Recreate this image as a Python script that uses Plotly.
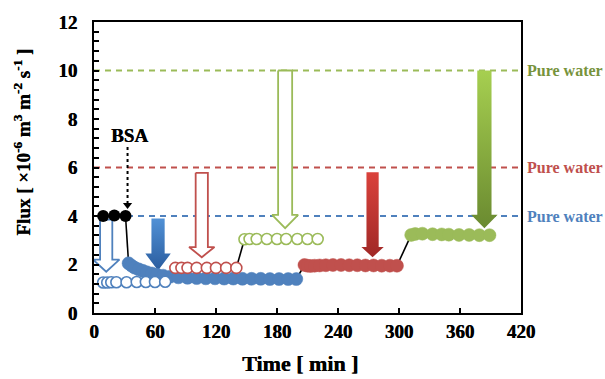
import plotly.graph_objects as go

FONT = "Liberation Serif"

# ---------------- data ----------------
bsa_t = [9, 20, 31]
bsa_flux = [4.0, 4.02, 4.0]

blue_filled_t = [34, 37, 40, 44, 48, 52, 57, 62, 68, 75, 83, 92, 101, 110, 119, 128, 137, 146, 155,
                 164, 173, 182, 191, 199]
blue_filled_flux = [2.05, 1.95, 1.87, 1.8, 1.74, 1.68, 1.63, 1.58, 1.54, 1.5, 1.47, 1.45, 1.44, 1.43,
                    1.43, 1.42, 1.42, 1.41, 1.41, 1.41, 1.40, 1.40, 1.40, 1.40]
blue_open_t = [9, 13, 17, 22, 32, 42, 51, 60, 70]
blue_open_flux = [1.26, 1.26, 1.27, 1.27, 1.27, 1.28, 1.28, 1.28, 1.29]

red_open_t = [80, 86, 92, 101, 111, 120, 130, 140]
red_open_flux = [1.86, 1.86, 1.86, 1.86, 1.86, 1.86, 1.86, 1.86]
red_filled_t = [207, 210, 213, 217, 222, 228, 235, 243, 251, 259, 267, 275, 283, 291, 298]
red_filled_flux = [1.98, 1.95, 1.94, 1.95, 1.96, 1.97, 1.98, 1.98, 1.97, 1.97, 1.96, 1.96, 1.95, 1.95, 1.95]

green_open_t = [148, 153, 160, 170, 180, 189, 200, 210, 220]
green_open_flux = [3.04, 3.05, 3.05, 3.05, 3.05, 3.05, 3.05, 3.05, 3.05]
green_filled_t = [312, 316, 323, 333, 342, 349, 359, 369, 379, 389]
green_filled_flux = [3.22, 3.26, 3.27, 3.25, 3.24, 3.23, 3.22, 3.22, 3.21, 3.21]

pure_water_flux = [4.0, 6.0, 10.0]
pure_water_label = ["Pure water", "Pure water", "Pure water"]

# arrows: centre time, top flux, tip flux
arrow_t = [12, 63, 106, 188, 274, 384]
arrow_top = [3.85, 3.9, 5.78, 10.0, 5.8, 10.0]
arrow_tip = [1.7, 1.75, 2.3, 3.5, 2.3, 3.5]

bsa_label_t, bsa_label_flux = 35, 7.3
bsa_arrow_t = [33, 33]
bsa_arrow_flux = [6.85, 4.45]

x_ticks = [0, 60, 120, 180, 240, 300, 360, 420]
y_ticks = [0, 2, 4, 6, 8, 10, 12]

# ---------------- styles ----------------
BLUE, RED, GREEN = "#4F81BD", "#C0504D", "#9BBB59"
LABEL_COLORS = ["#4F81BD", "#C0504D", "#77933C"]
DASH_COLORS = [BLUE, RED, GREEN]
# (style, colour / gradient, shaft half width [min], head half width [min], head height [flux])
arrow_styles = [
    ("hollow", BLUE, 6, 13, 0.5),
    ("filled", [[0, "#2A5C9E"], [1, "#5191D6"]], 6.5, 12.5, 0.7),
    ("hollow", RED, 6, 12.5, 0.42),
    ("hollow", GREEN, 6.9, 12.8, 0.55),
    ("filled", [[0, "#A02826"], [1, "#DA423C"]], 6, 11, 0.42),
    ("filled", [[0, "#6A8A30"], [1, "#A6CF50"]], 7, 13, 0.55),
]

fig = go.Figure()

# pure water dashed levels
for lvl, col in zip(pure_water_flux, DASH_COLORS):
    fig.add_trace(go.Scatter(x=[x_ticks[0], x_ticks[-1]], y=[lvl, lvl], mode="lines",
                             line=dict(color=col, width=1.8, dash="6px,5px"),
                             hoverinfo="skip", showlegend=False))

# arrows
for t, top, tip, (kind, col, sw, hw, hh) in zip(arrow_t, arrow_top, arrow_tip, arrow_styles):
    xs = [t - sw, t + sw, t + sw, t + hw, t, t - hw, t - sw, t - sw]
    ys = [top, top, tip + hh, tip + hh, tip, tip + hh, tip + hh, top]
    if kind == "hollow":
        fig.add_trace(go.Scatter(x=xs, y=ys, mode="lines", fill="toself", fillcolor="white",
                                 line=dict(color=col, width=1.8), hoverinfo="skip", showlegend=False))
    else:
        fig.add_trace(go.Scatter(x=xs, y=ys, mode="lines", fill="toself",
                                 fillgradient=dict(type="vertical", colorscale=col),
                                 line=dict(width=0, color="rgba(0,0,0,0)"),
                                 hoverinfo="skip", showlegend=False))

# black connectors between stages
connectors = [
    ([bsa_t[-1], blue_filled_t[0]], [bsa_flux[-1], blue_filled_flux[0]]),
    ([red_open_t[-1], green_open_t[0]], [red_open_flux[-1], green_open_flux[0]]),
    ([blue_filled_t[-1], red_filled_t[0]], [blue_filled_flux[-1], red_filled_flux[0]]),
    ([red_filled_t[-1], green_filled_t[0]], [red_filled_flux[-1], green_filled_flux[0]]),
]
for cx, cy in connectors:
    fig.add_trace(go.Scatter(x=cx, y=cy, mode="lines", line=dict(color="black", width=1.6),
                             hoverinfo="skip", showlegend=False))

MS = 13
def filled(x, y, col):
    fig.add_trace(go.Scatter(x=x, y=y, mode="markers",
                             marker=dict(size=MS, color=col, line=dict(color=col, width=0.5)),
                             showlegend=False))

def hollow(x, y, col):
    fig.add_trace(go.Scatter(x=x, y=y, mode="markers",
                             marker=dict(size=MS - 2, color="white", line=dict(color=col, width=1.6)),
                             showlegend=False))

filled(blue_filled_t, blue_filled_flux, BLUE)
hollow(blue_open_t, blue_open_flux, BLUE)
hollow(red_open_t, red_open_flux, RED)
hollow(green_open_t, green_open_flux, GREEN)
filled(red_filled_t, red_filled_flux, RED)
filled(green_filled_t, green_filled_flux, GREEN)
fig.add_trace(go.Scatter(x=bsa_t, y=bsa_flux, mode="lines+markers",
                         line=dict(color="black", width=1.6),
                         marker=dict(size=MS - 1, color="black"), showlegend=False))

# BSA dotted arrow
fig.add_trace(go.Scatter(x=bsa_arrow_t, y=bsa_arrow_flux, mode="lines",
                         line=dict(color="black", width=2, dash="dot"), hoverinfo="skip", showlegend=False))
fig.add_trace(go.Scatter(x=[bsa_arrow_t[-1]], y=[bsa_arrow_flux[-1]], mode="markers",
                         marker=dict(symbol="triangle-down", size=8, color="black"),
                         hoverinfo="skip", showlegend=False))

HEAVY = "0.45px 0 0 black"
BOLD = dict(family=FONT, color="black", weight="bold", shadow=HEAVY)
annotations = [
    dict(x=bsa_label_t, y=bsa_label_flux, xref="x", yref="y", text="BSA", showarrow=False,
         font=dict(BOLD, size=19)),
    dict(x=-0.169, y=0.588, xref="paper", yref="paper", xanchor="center", yanchor="middle",
         text="Flux [ ×10<sup>-6</sup> m<sup>3</sup> m<sup>-2</sup> s<sup>-1</sup> ]",
         textangle=-90, showarrow=False, font=dict(BOLD, size=19)),
    dict(x=0.482, y=-0.172, xref="paper", yref="paper", xanchor="center", yanchor="middle",
         text="Time [ min ]", showarrow=False, font=dict(BOLD, size=22)),
]
for lvl, lab, col in zip(pure_water_flux, pure_water_label, LABEL_COLORS):
    annotations.append(dict(x=1, y=lvl, xref="paper", yref="y", xanchor="left", yanchor="middle",
                            xshift=4, text=lab, showarrow=False,
                            font=dict(family=FONT, size=16, color=col, weight="bold")))

fig.update_layout(
    width=605, height=379,
    margin=dict(l=94, r=84, t=22, b=66, autoexpand=False),
    paper_bgcolor="white", plot_bgcolor="white",
    font=dict(family=FONT, color="black"),
    showlegend=False,
    annotations=annotations,
    xaxis=dict(range=[x_ticks[0], x_ticks[-1]], tickvals=x_ticks, automargin=False,
               ticks="inside", ticklen=5, tickwidth=1.5, tickcolor="black",
               showline=True, linecolor="black", linewidth=2, mirror=True,
               showgrid=False, zeroline=False, tickfont=dict(BOLD, size=19)),
    yaxis=dict(range=[y_ticks[0], y_ticks[-1]], tickvals=y_ticks, automargin=False,
               ticks="inside", ticklen=5, tickwidth=1.5, tickcolor="black",
               minor=dict(dtick=0.4, ticks="inside", ticklen=5, tickwidth=1.5, tickcolor="black"),
               showline=True, linecolor="black", linewidth=2, mirror=True,
               showgrid=False, zeroline=False, tickfont=dict(BOLD, size=19),
               ticklabelstandoff=11),
)

fig.write_html("out.html")
